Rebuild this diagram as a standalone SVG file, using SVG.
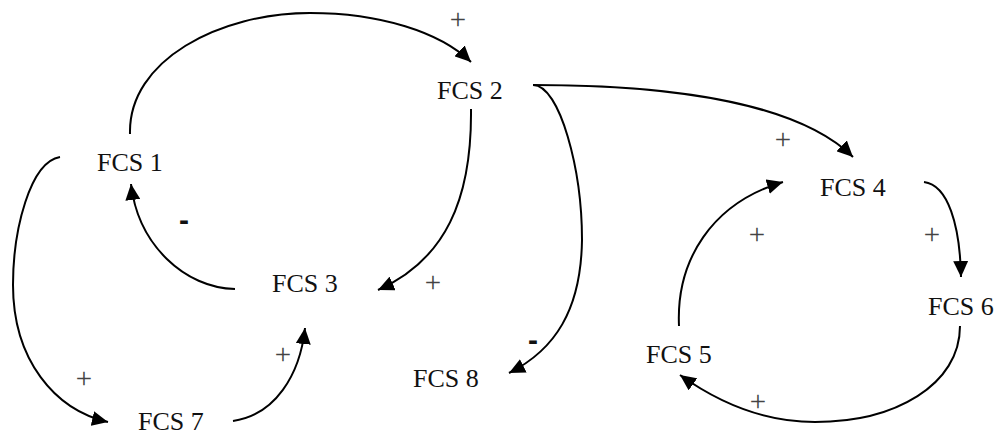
<svg xmlns="http://www.w3.org/2000/svg" width="999" height="436" viewBox="0 0 999 436">
  <defs>
    <marker id="arrow" markerUnits="userSpaceOnUse" markerWidth="17" markerHeight="15" refX="16" refY="7.5" orient="auto">
      <path d="M0,0 L16,7.5 L0,15 z" fill="#000"/>
    </marker>
    <style>
      .node text { font-family: "Liberation Serif", "Times New Roman", serif; font-size: 26px; fill: #111; }
      .link { fill: none; stroke: #000; stroke-width: 2; marker-end: url(#arrow); }
      .pos { font-family: "Liberation Serif", "Times New Roman", serif; font-size: 29px; fill: #444; text-anchor: middle; }
      .neg { font-family: "Liberation Sans", Arial, sans-serif; font-size: 30px; font-weight: bold; fill: #111; text-anchor: middle; }
    </style>
  </defs>
  <rect width="999" height="436" fill="#fff"/>

  <g id="connectors">
    <path class="link" d="M130,134 C128,60 220,13 310,13 C380,13 440,32 471,62"/>
    <path class="link" d="M471,109 C472,200 445,260 378,290"/>
    <path class="link" d="M235,289 C185,288 138,245 131,184"/>
    <path class="link" d="M60,157 C30,162 13,230 13,285 C13,360 55,410 108,422"/>
    <path class="link" d="M233,421 C275,415 300,375 305,328"/>
    <path class="link" d="M533,85 C680,85 800,105 853,157"/>
    <path class="link" d="M533,85 C560,85 582,170 582,240 C581,310 555,350 509,373"/>
    <path class="link" d="M679,326 C676,260 712,203 783,182"/>
    <path class="link" d="M924,182 C948,185 960,225 961,277"/>
    <path class="link" d="M960,326 C960,385 895,422 815,422 C760,422 715,400 680,375"/>
  </g>

  <g id="polarities">
    <text class="pos" x="458" y="29">+</text>
    <text class="pos" x="783" y="149">+</text>
    <text class="pos" x="757" y="244">+</text>
    <text class="pos" x="932" y="244">+</text>
    <text class="pos" x="433" y="292">+</text>
    <text class="pos" x="283" y="364">+</text>
    <text class="pos" x="84" y="388">+</text>
    <text class="pos" x="758" y="411">+</text>
    <text class="neg" x="184" y="230">-</text>
    <text class="neg" x="533" y="350">-</text>
  </g>

  <g id="fcs1" class="node"><text x="97" y="171">FCS 1</text></g>
  <g id="fcs2" class="node"><text x="437" y="99">FCS 2</text></g>
  <g id="fcs3" class="node"><text x="272" y="292">FCS 3</text></g>
  <g id="fcs4" class="node"><text x="820" y="196">FCS 4</text></g>
  <g id="fcs5" class="node"><text x="646" y="363">FCS 5</text></g>
  <g id="fcs6" class="node"><text x="928" y="315">FCS 6</text></g>
  <g id="fcs7" class="node"><text x="138" y="430">FCS 7</text></g>
  <g id="fcs8" class="node"><text x="413" y="387">FCS 8</text></g>
</svg>
